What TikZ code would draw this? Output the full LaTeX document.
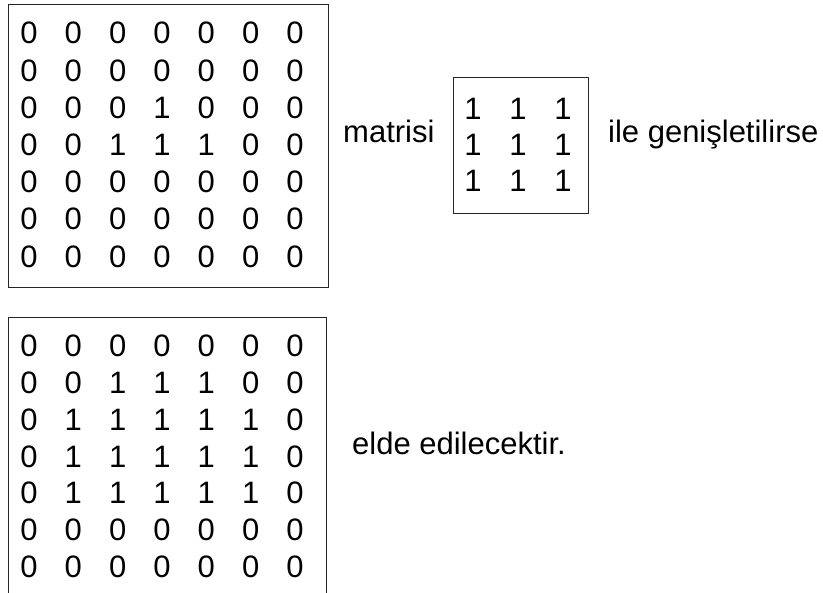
\documentclass[tikz,border=0pt]{standalone}
\usepackage{fontspec}
\setmainfont{Liberation Sans}

\begin{document}
\begin{tikzpicture}[x=1pt,y=-1pt,
    cell/.style={inner sep=0pt,anchor=base,font=\fontsize{31}{31}\selectfont},
    lbl/.style={inner sep=0pt,anchor=base west,font=\fontsize{31}{31}\selectfont},
    box/.style={draw=black!85,line width=0.9pt}]
  \useasboundingbox (0,0) rectangle (823,593);
  % input image
  \begin{scope}
    \draw[box] (8,4) rectangle (328,287);
    \foreach \row [count=\r] in {{0,0,0,0,0,0,0},{0,0,0,0,0,0,0},{0,0,0,1,0,0,0},
        {0,0,1,1,1,0,0},{0,0,0,0,0,0,0},{0,0,0,0,0,0,0},{0,0,0,0,0,0,0}}
      \foreach \v [count=\c] in \row
        \node[cell] (in-\r-\c) at ({29+44.33*(\c-1)},{44+37.2*(\r-1)}) {\v};
  \end{scope}
  % structuring element
  \begin{scope}
    \draw[box] (453,77) rectangle (588,213);
    \foreach \r in {1,2,3}
      \foreach \c in {1,2,3}
        \node[cell] (se-\r-\c) at ({473+45*(\c-1)},{120+36*(\r-1)}) {1};
  \end{scope}
  \node[lbl] (matrisi) at (343,143) {matrisi};
  \node[lbl] (ile) at (608,143) {ile genişletilirse};
  % result
  \begin{scope}
    \draw[box] (8,594) -- (8,317) -- (326,317) -- (326,594);
    \foreach \row [count=\r] in {{0,0,0,0,0,0,0},{0,0,1,1,1,0,0},{0,1,1,1,1,1,0},
        {0,1,1,1,1,1,0},{0,1,1,1,1,1,0},{0,0,0,0,0,0,0},{0,0,0,0,0,0,0}}
      \foreach \v [count=\c] in \row
        \node[cell] (out-\r-\c) at ({29+44.33*(\c-1)},{357+36.7*(\r-1)}) {\v};
  \end{scope}
  \node[lbl] (elde) at (352,455) {elde edilecektir.};
\end{tikzpicture}
\end{document}
